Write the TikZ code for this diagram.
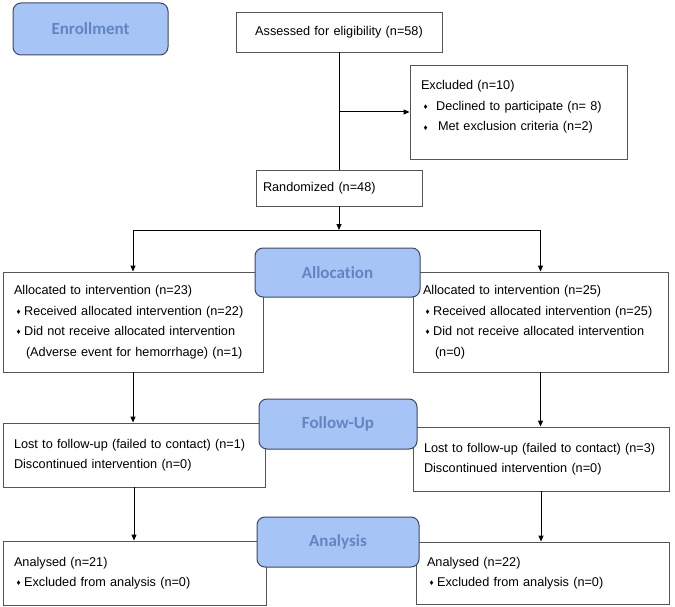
\documentclass[tikz,border=0pt]{standalone}
\usepackage{fontspec}
\setmainfont{Liberation Sans}
\newfontfamily\stagefont{Carlito}[Ligatures=NoCommon]
\usetikzlibrary{arrows.meta,positioning}

\definecolor{stagefill}{RGB}{167,196,246}
\definecolor{stageline}{RGB}{62,72,94}
\definecolor{stagetext}{RGB}{98,133,194}
\definecolor{boxline}{RGB}{85,85,85}
\newcommand{\blt}{\hspace{2.5pt}{\fontsize{8pt}{8pt}\selectfont\raisebox{0.2ex}{♦}}\hspace{3.5pt}}

\begin{document}
\begin{tikzpicture}[x=1pt, y=-1pt,
    box/.style={rectangle, draw=boxline, line width=0.9pt, fill=white, inner xsep=11pt, inner ysep=0pt, align=left, font=\fontsize{12.7pt}{20.5pt}\selectfont},
    stage/.style={rectangle, rounded corners=8pt, draw=stageline, line width=1pt, fill=stagefill, text=stagetext, font=\stagefont\bfseries\fontsize{17pt}{18pt}\selectfont},
    flow/.style={line width=1pt, -{Triangle[length=6pt,width=5pt]}}]
    \useasboundingbox (0,0) rectangle (675,607);

    % enrollment
    \node (assess) [box, text width=184pt, align=center, minimum height=40pt] at (339,32) {Assessed for eligibility (n=58)};
    \node (excl) [box, text width=195pt, minimum height=94pt] at (518.5,112) {Excluded (n=10)\\ \blt\hspace{5pt}Declined to participate (n= 8)\\ \blt\hspace{7pt}Met exclusion criteria (n=2)\\[-8pt] \mbox{}};
    \node (rand) [box, inner xsep=7pt, text width=152pt, minimum height=36pt] at (339,188) {Randomized (n=48)};

    % allocation
    \node (allocL) [box, text width=238pt, minimum height=100pt] at (133,322) {Allocated to intervention (n=23)\\ \blt Received allocated intervention (n=22)\\ \blt Did not receive allocated intervention\\ \hspace{12pt}(Adverse event for hemorrhage) (n=1)};
    \node (allocR) [box, inner xsep=10pt, text width=235pt, minimum height=100pt] at (540.5,322) {Allocated to intervention (n=25)\\ \blt Received allocated intervention (n=25)\\ \blt Did not receive allocated intervention\\ \hspace{12pt}(n=0)};

    % follow-up
    \node (folL) [box, text width=240pt, minimum height=64pt] at (134,455) {Lost to follow-up (failed to contact) (n=1)\\ Discontinued intervention (n=0)};
    \node (folR) [box, text width=234pt, minimum height=64pt] at (541,459) {Lost to follow-up (failed to contact) (n=3)\\ Discontinued intervention (n=0)};

    % analysis
    \node (anaL) [box, text width=241pt, minimum height=64pt] at (134.5,573) {Analysed (n=21)\\ \blt Excluded from analysis (n=0)};
    \node (anaR) [box, text width=231pt, minimum height=62pt] at (542.5,573) {Analysed (n=22)\\ \blt Excluded from analysis (n=0)};

    % connectors
    \coordinate (split) at (339,230);
    \draw[line width=1pt] (assess) -- (rand);
    \draw[flow] (assess.south |- excl.west) -- (excl.west);
    \draw[flow] (rand) -- (split);
    \draw[flow] (split) -| (allocL.north);
    \draw[flow] (split) -| (allocR.north);
    \draw[flow] (allocL.south) -- (allocL.south |- folL.north);
    \draw[flow] (allocR.south) -- (allocR.south |- folR.north);
    \draw[flow] (folL.south) -- (folL.south |- anaL.north);
    \draw[flow] (folR.south) -- (folR.south |- anaR.north);

    % stage labels
    \node (enroll) [stage, minimum width=155pt, minimum height=52pt] at (90.5,29) {Enrollment};
    \node (alloc) [stage, minimum width=165pt, minimum height=49pt] at (337.5,272.5) {Allocation};
    \node (follow) [stage, minimum width=158pt, minimum height=50pt] at (338,424) {Follow-Up};
    \node (analysis) [stage, minimum width=162pt, minimum height=50pt] at (338,542) {Analysis};
\end{tikzpicture}
\end{document}
